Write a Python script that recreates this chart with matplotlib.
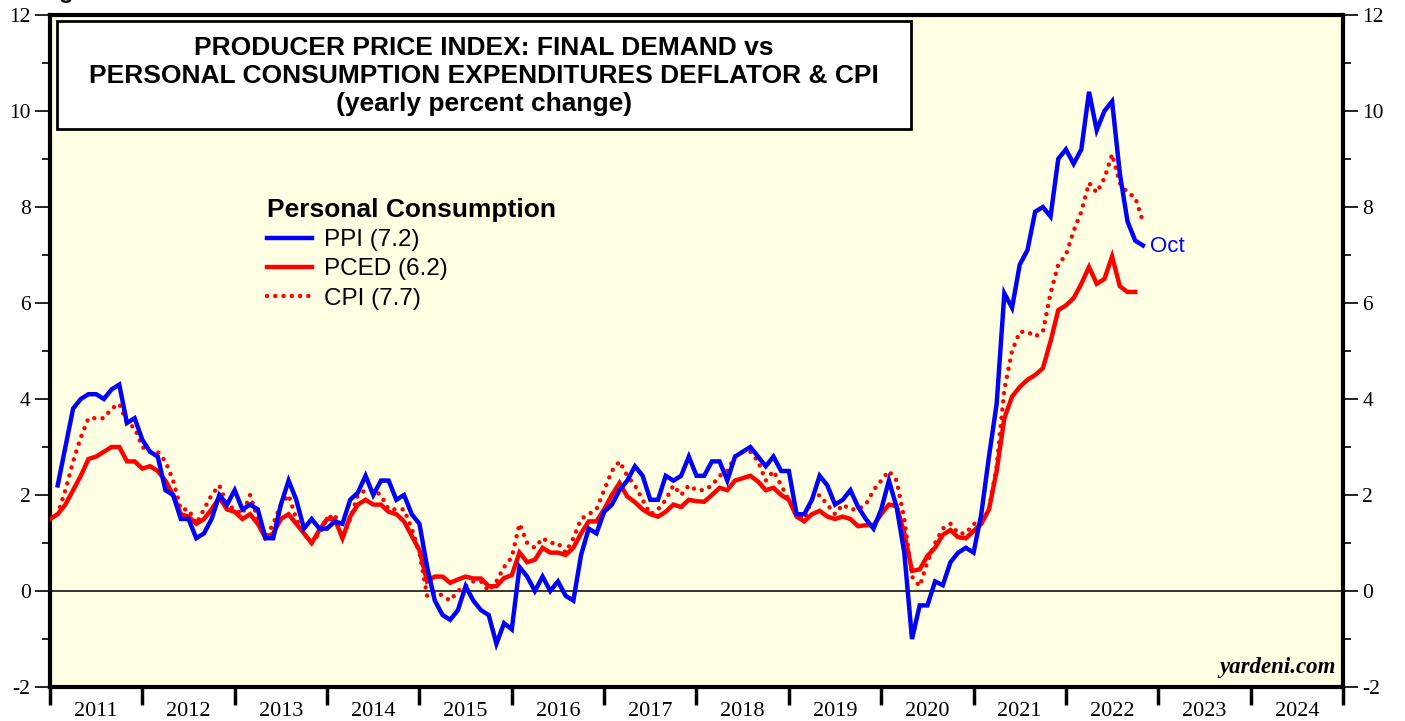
import matplotlib
matplotlib.use("Agg")
import matplotlib.pyplot as plt
from matplotlib.patches import Rectangle
from matplotlib.lines import Line2D
import numpy as np

plt.rcParams["axes.unicode_minus"] = False

# ---- data (yearly % change), monthly; index 0 = Dec 2010, 1 = Jan 2011 ... 142 = Oct 2022
ppi = [  # starts Jan 2011
    2.2, 3.0, 3.8, 4.0, 4.1, 4.1, 4.0, 4.2, 4.3, 3.5, 3.6, 3.15,
    2.9, 2.8, 2.1, 2.0, 1.5, 1.5, 1.1, 1.2, 1.5, 2.0, 1.8, 2.1,
    1.7, 1.8, 1.7, 1.1, 1.1, 1.8, 2.3, 1.9, 1.3, 1.5, 1.3, 1.3,
    1.45, 1.4, 1.9, 2.05, 2.4, 2.0, 2.3, 2.3, 1.9, 2.0, 1.6, 1.4,
    0.5, -0.2, -0.5, -0.6, -0.4, 0.1, -0.2, -0.4, -0.5, -1.1, -0.67, -0.8,
    0.5, 0.3, 0.0, 0.3, 0.0, 0.2, -0.1, -0.2, 0.75, 1.3, 1.2, 1.65,
    1.8, 2.1, 2.3, 2.6, 2.4, 1.9, 1.9, 2.4, 2.3, 2.4, 2.8, 2.4,
    2.4, 2.7, 2.7, 2.3, 2.8, 2.9, 3.0, 2.8, 2.6, 2.8, 2.5, 2.5,
    1.6, 1.6, 1.9, 2.4, 2.2, 1.8, 1.9, 2.1, 1.75, 1.5, 1.3, 1.7,
    2.3, 1.75, 0.8, -1.0, -0.3, -0.3, 0.2, 0.12, 0.6, 0.8, 0.9, 0.8,
    1.6, 2.8, 3.9, 6.2, 5.9, 6.8, 7.1, 7.9, 8.0, 7.8, 9.0, 9.2,
    8.9, 9.2, 10.4, 9.6, 10.0, 10.2, 8.7, 7.7, 7.3, 7.2,
]
pced = [  # starts Dec 2010
    1.5,
    1.6, 1.8, 2.1, 2.4, 2.75, 2.8, 2.9, 3.0, 3.0, 2.7, 2.7, 2.55,
    2.6, 2.5, 2.3, 2.0, 1.6, 1.55, 1.4, 1.5, 1.7, 1.95, 1.7, 1.65,
    1.5, 1.6, 1.4, 1.1, 1.2, 1.5, 1.6, 1.4, 1.2, 1.0, 1.27, 1.5,
    1.5, 1.1, 1.55, 1.8, 1.9, 1.8, 1.8, 1.65, 1.6, 1.45, 1.15, 0.85,
    0.2, 0.3, 0.3, 0.17, 0.24, 0.3, 0.26, 0.26, 0.1, 0.1, 0.27, 0.33,
    0.8, 0.6, 0.65, 0.9, 0.8, 0.8, 0.75, 0.9, 1.2, 1.45, 1.45, 1.7,
    2.0, 2.25, 1.97, 1.85, 1.7, 1.6, 1.55, 1.65, 1.8, 1.75, 1.9, 1.87,
    1.86, 2.0, 2.15, 2.1, 2.3, 2.35, 2.4, 2.28, 2.1, 2.15, 2.0, 1.9,
    1.55, 1.45, 1.6, 1.67, 1.55, 1.5, 1.55, 1.5, 1.35, 1.37, 1.37, 1.6,
    1.8, 1.77, 1.2, 0.42, 0.45, 0.73, 0.9, 1.17, 1.27, 1.12, 1.1, 1.25,
    1.4, 1.7, 2.5, 3.6, 4.05, 4.25, 4.4, 4.5, 4.64, 5.2, 5.85, 5.95,
    6.1, 6.4, 6.75, 6.4, 6.5, 6.97, 6.35, 6.23, 6.23,
]
cpi = [  # starts Dec 2010
    1.5,
    1.6, 2.1, 2.7, 3.2, 3.6, 3.6, 3.6, 3.8, 3.9, 3.5, 3.4, 3.0,
    2.9, 2.9, 2.7, 2.3, 1.7, 1.7, 1.4, 1.7, 2.0, 2.2, 1.8, 1.7,
    1.6, 2.0, 1.5, 1.1, 1.4, 1.8, 2.0, 1.5, 1.2, 1.0, 1.2, 1.5,
    1.6, 1.1, 1.5, 2.0, 2.1, 2.1, 2.0, 1.7, 1.7, 1.7, 1.3, 0.8,
    -0.1, 0.0, -0.1, -0.2, 0.0, 0.1, 0.2, 0.2, 0.0, 0.2, 0.5, 0.7,
    1.4, 1.0, 0.9, 1.1, 1.0, 1.0, 0.8, 1.1, 1.5, 1.6, 1.7, 2.1,
    2.5, 2.7, 2.4, 2.2, 1.9, 1.6, 1.7, 1.9, 2.2, 2.0, 2.2, 2.1,
    2.1, 2.2, 2.4, 2.5, 2.8, 2.9, 2.9, 2.7, 2.3, 2.5, 2.2, 1.9,
    1.6, 1.5, 1.9, 2.0, 1.8, 1.6, 1.8, 1.7, 1.7, 1.8, 2.1, 2.3,
    2.5, 2.3, 1.5, 0.3, 0.1, 0.6, 1.0, 1.3, 1.4, 1.2, 1.2, 1.4,
    1.4, 1.7, 2.6, 4.2, 5.0, 5.4, 5.4, 5.3, 5.4, 6.2, 6.8, 7.0,
    7.5, 7.9, 8.5, 8.3, 8.6, 9.1, 8.5, 8.3, 8.2, 7.7,
]
years = list(range(2011, 2025))
legend_labels = ["PPI (7.2)", "PCED (6.2)", "CPI (7.7)"]
last_label = "Oct"
title_text = ("PRODUCER PRICE INDEX: FINAL DEMAND vs\n"
              "PERSONAL CONSUMPTION EXPENDITURES DEFLATOR & CPI\n"
              "(yearly percent change)")

# x positions: plotted at month end
x_ppi = 2011 + (np.arange(len(ppi)) + 1) / 12.0
x_pced = 2011 + np.arange(len(pced)) / 12.0
x_cpi = 2011 + np.arange(len(cpi)) / 12.0

W, H = 1405, 721
fig = plt.figure(figsize=(W / 100, H / 100), dpi=100, facecolor="white")
L, R, T, B = 50, 1343, 15, 687
ax = fig.add_axes([L / W, (H - B) / H, (R - L) / W, (B - T) / H])
ax.set_facecolor("#FFFFE3")

BLUE = "#0000FF"
RED = "#FF0000"
lw = 3.2
dotted = (0, (0.01, 1.85))
ax.axhline(0, color="black", lw=1.1, zorder=1)
ax.plot(x_cpi, cpi, color=RED, lw=lw, linestyle=dotted,
        dash_capstyle="round", zorder=2)
ax.plot(x_pced, pced, color=RED, lw=lw, solid_joinstyle="miter", zorder=3)
ax.plot(x_ppi, ppi, color=BLUE, lw=lw, solid_joinstyle="miter", zorder=4)

ax.annotate(last_label, xy=(x_ppi[-1], ppi[-1]), xytext=(5, -1),
            textcoords="offset points", color=BLUE, fontsize=16,
            family="Liberation Sans", va="center", ha="left")

ax.set_xlim(2011, 2025)
ax.set_ylim(-2, 12)

for s in ax.spines.values():
    s.set_linewidth(3)

serif = "Liberation Serif"
ax.set_yticks(range(-2, 13, 2))
ax.set_yticks(range(-1, 12, 2), minor=True)
ax.tick_params(axis="y", which="major", direction="out", length=11, width=1.2,
               left=True, right=True, labelleft=True, labelright=True,
               labelsize=15.5, pad=3)
ax.tick_params(axis="y", which="minor", direction="out", length=6, width=1.2,
               left=True, right=True)
ax.set_xticks(years + [2025])
ax.set_xticklabels([])
ax.set_xticks([y + 0.5 for y in years], minor=True)
ax.set_xticklabels([str(y) for y in years], minor=True)
ax.tick_params(axis="x", which="major", direction="out", length=13, width=2.5)
ax.tick_params(axis="x", which="minor", length=0, labelsize=16, pad=11)
for lab in ax.get_yticklabels() + ax.get_xticklabels(minor=True):
    lab.set_family(serif)

# legend
handles = [
    Line2D([], [], color=BLUE, lw=lw),
    Line2D([], [], color=RED, lw=lw),
    Line2D([], [], color=RED, lw=lw, linestyle=dotted, dash_capstyle="round"),
]
leg = ax.legend(handles, legend_labels, loc="upper left",
                bbox_to_anchor=(262 / W, (H - 193) / H), bbox_transform=fig.transFigure,
                frameon=False, handlelength=1.85, handletextpad=0.5,
                labelspacing=0.3, borderaxespad=0, borderpad=0.2,
                title="Personal Consumption", alignment="left",
                prop={"family": "Liberation Sans", "size": 17.5})
leg.get_title().set_fontproperties({"family": "Liberation Sans", "weight": "bold", "size": 19})

# title box
fig.add_artist(Rectangle((57 / W, (H - 129) / H), 854 / W, 108 / H,
                         transform=fig.transFigure, facecolor="white",
                         edgecolor="black", lw=2, zorder=5))
fig.text(484 / W, (H - 76) / H, title_text, ha="center", va="center",
         family="Liberation Sans", weight="bold", fontsize=19,
         linespacing=1.2, zorder=6)

ax.text(0.994, 0.014, "yardeni.com", transform=ax.transAxes, ha="right",
        va="bottom", family=serif, weight="bold", style="italic", fontsize=16.5)

fig.text(38 / W, (H + 2) / H, "Figure 1.", ha="left", va="baseline",
         family="Liberation Sans", weight="bold", fontsize=17)

fig.savefig("out.png", dpi=100, facecolor="white")
